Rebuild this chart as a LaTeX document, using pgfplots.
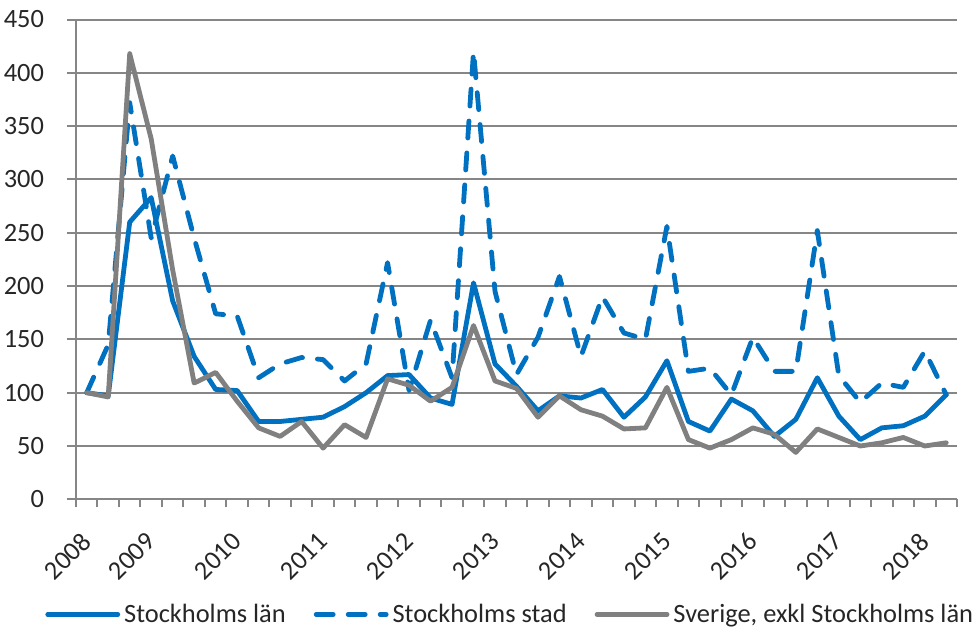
\documentclass[border=0pt]{standalone}
\usepackage{pgfplots}
\pgfplotsset{compat=1.18}
\usepackage{fontspec}
\setmainfont{Carlito}

\definecolor{lanblue}{RGB}{0,112,192}
\definecolor{sergrey}{RGB}{128,128,128}
\definecolor{gridgrey}{RGB}{134,134,134}

% index 0..40 = quarters, 2008 ... 2018
% columns: lan = Stockholms län, stad = Stockholms stad, sve = Sverige exkl Stockholms län
\pgfplotstableread{
i  lan stad sve
0  100 100 100
1  97  145 96
2  260 372 418
3  283 245 338
4  186 322 215
5  134 245 109
6  103 174 119
7  102 172 92
8  73  114 67
9  73  127 59
10 75  133 73
11 77  131 48
12 87  111 70
13 100 127 58
14 116 222 113
15 117 102 107
16 95  168 92
17 89  114 105
18 203 420 163
19 127 195 111
20 106 117 104
21 83  152 77
22 97  209 97
23 95  134 84
24 103 190 78
25 77  156 66
26 96  150 67
27 130 256 105
28 73  120 56
29 64  123 48
30 94  98  56
31 83  152 67
32 59  120 61
33 75  120 44
34 114 252 66
35 78  116 58
36 56  91  50
37 67  109 53
38 69  105 58
39 78  139 50
40 98  98  53
}\quarters

\begin{document}
\begin{tikzpicture}
\begin{axis}[
    width=440.5pt, height=239.9pt,
    scale only axis,
    xmin=-0.5, xmax=40.5,
    ymin=0, ymax=450,
    ytick={0,50,...,450},
    xtick={0,3,7,11,15,19,23,27,31,35,39},
    xticklabels={2008,2009,2010,2011,2012,2013,2014,2015,2016,2017,2018},
    minor xtick={-0.5,0.5,...,40.5},
    major x tick style={draw=none},
    minor x tick style={gridgrey, line width=1pt},
    major y tick style={gridgrey, line width=1pt},
    tick align=outside,
    major tick length=4.5pt,
    minor tick length=4pt,
    axis x line*=bottom,
    axis y line*=left,
    axis line style={gridgrey, line width=1pt, -},
    ymajorgrids,
    y grid style={gridgrey, line width=1pt},
    /pgf/number format/assume math mode=true,
    ticklabel style={font=\fontsize{13.2}{16}\selectfont, text=black!85},
    yticklabel style={xshift=-8pt},
    xticklabel style={xshift=2.3pt, yshift=-12pt, rotate=45, anchor=east},
    legend columns=-1,
    legend style={at={(0.494,-0.240)}, anchor=center, draw=none,
        font=\fontsize{13.2}{16}\selectfont, text=black!85,
        inner sep=1pt,
        /tikz/every even column/.append style={column sep=12pt}},
    legend image code/.code={\draw[#1] (0pt,0pt) -- (35pt,0pt);},
    every axis plot/.append style={line width=2.4pt, line join=round, line cap=round},
  ]
  \coordinate (ll) at (rel axis cs:0,0);
  \addplot[lanblue] table[x=i, y=lan] {\quarters};
  \addplot[lanblue, dash pattern=on 8.5pt off 7.5pt] table[x=i, y=stad] {\quarters};
  \addplot[sergrey] table[x=i, y=sve] {\quarters};
  \legend{Stockholms län, Stockholms stad, {Sverige, exkl Stockholms län}}
\end{axis}
\pgfresetboundingbox
\path[use as bounding box] (ll) ++(-38pt,-64.35pt) rectangle ++(490pt,314pt);
\end{tikzpicture}
\end{document}
